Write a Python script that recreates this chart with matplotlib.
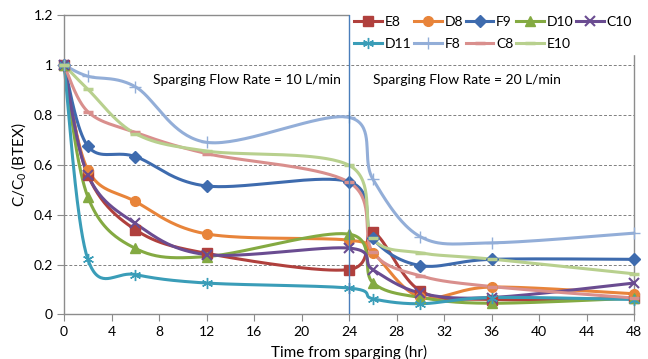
import numpy as np
import matplotlib
matplotlib.use("Agg")
import matplotlib.pyplot as plt
from matplotlib.lines import Line2D

plt.rcParams['font.family'] = ['Lato', 'DejaVu Sans']
plt.rcParams['mathtext.fontset'] = 'custom'
plt.rcParams['mathtext.rm'] = 'Lato'
plt.rcParams['mathtext.it'] = 'Lato'

hours = [0, 2, 6, 12, 24, 26, 30, 36, 48]
E8  = [1.0, 0.56, 0.34, 0.245, 0.18, 0.33, 0.095, 0.06, 0.065]
D8  = [1.0, 0.58, 0.453, 0.323, 0.298, 0.248, 0.07, 0.11, 0.083]
F9  = [1.0, 0.675, 0.633, 0.515, 0.532, 0.305, 0.196, 0.221, 0.221]
D10 = [1.0, 0.472, 0.265, 0.232, 0.322, 0.128, 0.068, 0.045, 0.065]
C10 = [1.0, 0.56, 0.365, 0.24, 0.266, 0.18, 0.086, 0.068, 0.126]
D11 = [1.0, 0.222, 0.16, 0.126, 0.106, 0.063, 0.043, 0.068, 0.06]
F8  = [1.0, 0.955, 0.913, 0.69, 0.79, 0.543, 0.312, 0.287, 0.326]
C8  = [1.0, 0.813, 0.73, 0.645, 0.53, 0.25, 0.155, 0.112, 0.066]
E10 = [1.0, 0.903, 0.725, 0.655, 0.598, 0.305, 0.247, 0.222, 0.163]

series = [
    ("E8", E8, "#B0403D", "s", 7, 1.0),
    ("D8", D8, "#E8843A", "o", 7, 1.0),
    ("F9", F9, "#3E6BAE", "D", 6, 1.0),
    ("D10", D10, "#84AA42", "^", 7.5, 1.0),
    ("C10", C10, "#6A4C91", "x", 7, 1.5),
    ("D11", D11, "#3A9DB8", (6, 2, 0), 8, 1.0),
    ("F8", F8, "#93AED8", "+", 9, 1.0),
    ("C8", C8, "#D98F8D", "_", 7, 2.5),
    ("E10", E10, "#B8D08E", "_", 7, 2.5),
]

def smooth(x, y, n=40):
    # Excel-style smoothing: cubic Bezier with Catmull-Rom control points
    P = np.column_stack([x, y]).astype(float)
    m = len(P)
    out = []
    for i in range(m - 1):
        p0 = P[i - 1] if i > 0 else P[i]
        p1 = P[i]
        p2 = P[i + 1]
        p3 = P[i + 2] if i + 2 < m else P[i + 1]
        c1 = p1 + (p2 - p0) / 6.0
        c2 = p2 - (p3 - p1) / 6.0
        t = np.linspace(0, 1, n)[:, None]
        seg = ((1 - t) ** 3) * p1 + 3 * ((1 - t) ** 2) * t * c1 + 3 * (1 - t) * t ** 2 * c2 + t ** 3 * p2
        out.append(seg if i == 0 else seg[1:])
    S = np.vstack(out)
    return S[:, 0], S[:, 1]

fig = plt.figure(figsize=(6.48, 3.59), dpi=100)
ax = fig.add_axes([0.0988, 0.124, 0.8796, 0.834])

ax.set_xlim(0, 48)
ax.set_ylim(0, 1.2)
ax.set_xticks(np.arange(0, 49, 4))
ax.set_yticks([0, 0.2, 0.4, 0.6, 0.8, 1.0, 1.2])
ax.set_yticklabels(["0", "0.2", "0.4", "0.6", "0.8", "1", "1.2"])

for yv in [0.2, 0.4, 0.6, 0.8, 1.0]:
    ax.axhline(yv, color="#808080", lw=0.7, ls=(0, (3, 2)), zorder=0.5)

for s in ["left", "bottom", "right", "top"]:
    ax.spines[s].set_color("#8C8C8C")
    ax.spines[s].set_linewidth(1.0)
ax.spines["top"].set_bounds(0, 24)
ax.tick_params(axis="both", direction="out", length=5, color="#8C8C8C", labelsize=10, pad=3)

handles = {}
for name, vals, col, mk, ms, mew in series:
    sx, sy = smooth(hours, vals)
    ax.plot(sx, sy, color=col, lw=2.2, solid_capstyle="round", zorder=2, clip_on=False)
    ax.plot(hours, vals, ls="none", marker=mk, ms=ms, color=col, mec=col, mew=mew, zorder=3, clip_on=False)
    handles[name] = Line2D([], [], color=col, lw=2.2, marker=mk, ms=ms, mec=col, mew=mew)

ax.text(7.5, 0.94, "Sparging Flow Rate = 10 L/min", fontsize=10, va="center", ha="left")
ax.text(26.0, 0.94, "Sparging Flow Rate = 20 L/min", fontsize=10, va="center", ha="left")

ax.set_xlabel("Time from sparging (hr)", fontsize=11, labelpad=5)
ax.set_ylabel("C/C$_0$ (BTEX)", fontsize=11, labelpad=4)

order = ["E8", "D11", "D8", "F8", "F9", "C8", "D10", "E10", "C10"]
leg = ax.legend([handles[k] for k in order], order, ncol=5, loc="upper right",
                bbox_to_anchor=(1.004, 1.01), frameon=True, fontsize=10,
                handlelength=2.0, handletextpad=0.2, columnspacing=0.2,
                borderpad=0.3, labelspacing=0.7, borderaxespad=0.0)
leg.get_frame().set_facecolor("white")
leg.get_frame().set_edgecolor("white")
leg.get_frame().set_alpha(1.0)
leg.get_frame().set_boxstyle("square", pad=0)
leg.set_zorder(4)

# vertical divider at 24 h drawn above the legend box, as in the reference
ax.axvline(24, color="#4A7EBB", lw=1.0, zorder=5)

fig.savefig("out.png", dpi=100)
